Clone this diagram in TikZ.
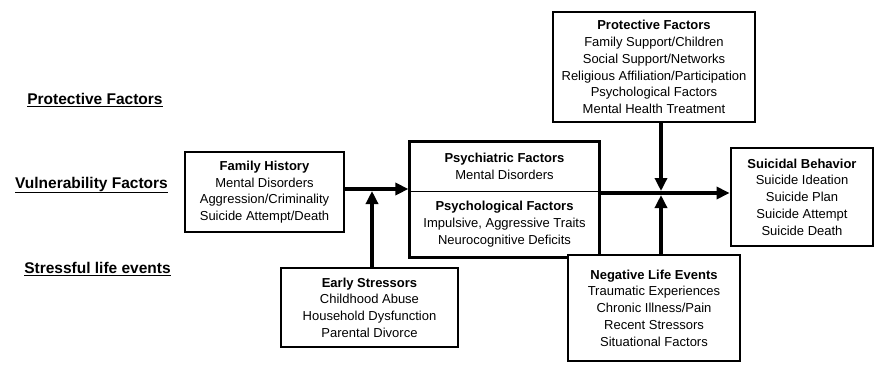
\documentclass[tikz,border=0pt]{standalone}
\usepackage{fontspec}
\setmainfont{Liberation Sans}
\usepackage{tikz}
\usetikzlibrary{positioning, calc, fit, arrows.meta}
\newcommand{\heading}[1]{\textbf{#1}}
\newcommand{\rowlabel}[1]{\underline{\textbf{#1}}}

\begin{document}
\begin{tikzpicture}[
			x=1pt, y=-1pt,
			box/.style={
					rectangle, draw, line width=2.8pt, fill=white,
					align=center, font=\fontsize{13}{16.7}\selectfont, inner sep=0pt
				},
			part/.style={
					rectangle, align=center, font=\fontsize{13}{16.7}\selectfont, inner sep=0pt
				},
			level/.style={
					font=\fontsize{15.5}{17}\selectfont, inner sep=0pt
				},
			flow/.style={
					line width=3.8pt, -{Triangle[length=13pt, width=12pt]}
				}
		]
		\useasboundingbox (0,0) rectangle (875,365);

		% Row labels on the left
		\node[level] (protlabel) at (95,100) {\rowlabel{Protective Factors}};
		\node[level] (vulnlabel) at (91.5,185) {\rowlabel{Vulnerability Factors}};
		\node[level] (stresslabel) at (97.5,269) {\rowlabel{Stressful life events}};

		% Vulnerability row
		\node[box, minimum width=159pt, minimum height=80pt] (family) at (264.5,192) {
			\heading{Family History}\\
			Mental Disorders\\
			Aggression/Criminality\\
			Suicide Attempt/Death
		};
		\node[part, minimum width=189pt, minimum height=49pt] (psychiatric) at (504.5,166.5) {
			\heading{Psychiatric Factors}\\
			Mental Disorders
		};
		\node[part, minimum width=189pt, minimum height=66pt] (psychological) at (504.5,224) {
			\heading{Psychological Factors}\\
			Impulsive, Aggressive Traits\\
			Neurocognitive Deficits
		};
		\node[box, fill=none, fit=(psychiatric)(psychological)] (psyframe) {};
		\draw[line width=1pt] (psychiatric.south west) -- (psychiatric.south east);

		\node[box, minimum width=142pt, minimum height=98pt] (behavior) at (802,197) {
			\heading{Suicidal Behavior}\\
			Suicide Ideation\\
			Suicide Plan\\
			Suicide Attempt\\
			Suicide Death
		};

		% Protective and stress boxes
		\node[box, minimum width=202pt, minimum height=110pt] (protective) at (654,67) {
			\heading{Protective Factors}\\
			Family Support/Children\\
			Social Support/Networks\\
			Religious Affiliation/Participation\\
			Psychological Factors\\
			Mental Health Treatment
		};
		\node[box, minimum width=177pt, minimum height=79pt] (early) at (369.5,307.5) {
			\heading{Early Stressors}\\
			Childhood Abuse\\
			Household Dysfunction\\
			Parental Divorce
		};
		\node[box, minimum width=172pt, minimum height=106pt] (negative) at (654,308) {
			\heading{Negative Life Events}\\
			Traumatic Experiences\\
			Chronic Illness/Pain\\
			Recent Stressors\\
			Situational Factors
		};

		% Junction points on the arrows
		\coordinate (joinleft) at (372,191);
		\coordinate (joinright) at (661,193);

		% Arrows
		\draw[flow] (family.east |- 0,189) -- (psyframe.west |- 0,189);
		\draw[flow] (early.north -| joinleft) -- (joinleft);
		\draw[flow] (psyframe.east |- joinright) -- (behavior.west |- joinright);
		\draw[flow] (protective.south -| joinright) -- ([yshift=2pt]joinright);
		\draw[flow] (negative.north -| joinright) -- ([yshift=-2pt]joinright);

	\end{tikzpicture}
\end{document}
